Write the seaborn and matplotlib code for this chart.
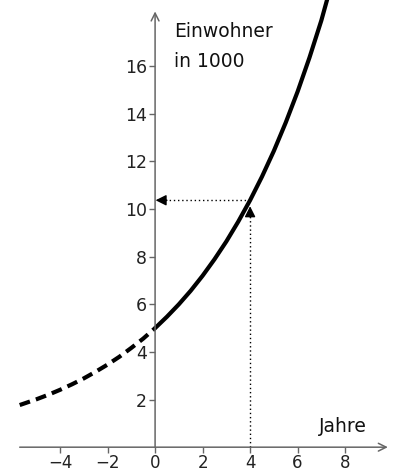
import matplotlib
matplotlib.use("Agg")
import matplotlib.pyplot as plt
import seaborn as sns
import pandas as pd

# values (years, population in 1000)
years_past = [-5.7, -5, -4.5, -4, -3.5, -3, -2.5, -2, -1.5, -1, -0.5, 0]
pop_past = [1.77, 2.01, 2.20, 2.41, 2.64, 2.89, 3.17, 3.47, 3.80, 4.17, 4.56, 5.00]
years_future = [0, 0.5, 1, 1.5, 2, 2.5, 3, 3.5, 4, 4.5, 5, 5.5, 6, 6.5, 7, 7.3]
pop_future = [5.00, 5.48, 6.00, 6.57, 7.20, 7.89, 8.64, 9.47, 10.37, 11.36,
              12.44, 13.63, 14.93, 16.36, 17.92, 19.0]
x_ticks = [-4, -2, 0, 2, 4, 6, 8]
y_ticks = [2, 4, 6, 8, 10, 12, 14, 16]
read_year = 4
read_pop = 10.37

sns.set_style("white")
plt.rcParams['font.family'] = ['DejaVu Sans']

fig = plt.figure(figsize=(3.99, 4.71), dpi=100)
ax = fig.add_axes([0, 0, 1, 1])

df_past = pd.DataFrame({"Jahre": years_past, "Einwohner": pop_past})
df_future = pd.DataFrame({"Jahre": years_future, "Einwohner": pop_future})
sns.lineplot(data=df_past, x="Jahre", y="Einwohner", ax=ax, color="black",
             lw=3, linestyle=(0, (2.6, 1.5)), sort=False)
sns.lineplot(data=df_future, x="Jahre", y="Einwohner", ax=ax, color="black",
             lw=3, sort=False)

ax.set_xlim(-6.53, 10.27)
ax.set_ylim(-1.0, 18.78)
ax.set_xlabel("")
ax.set_ylabel("")

# axes through origin
for s in ["top", "right", "left", "bottom"]:
    ax.spines[s].set_visible(False)
ax.spines["left"].set_position(("data", 0))
ax.spines["bottom"].set_position(("data", 0))
axcol = "#666666"
ax.annotate("", xy=(0, 18.3), xytext=(0, 0),
            arrowprops=dict(arrowstyle="->", color=axcol, lw=1.1,
                            shrinkA=0, shrinkB=0, mutation_scale=14))
ax.annotate("", xy=(9.8, 0), xytext=(-5.7, 0),
            arrowprops=dict(arrowstyle="->", color=axcol, lw=1.1,
                            shrinkA=0, shrinkB=0, mutation_scale=14))

ax.set_xticks(x_ticks)
ax.set_yticks(y_ticks)
ax.tick_params(axis="both", direction="out", length=4, width=1, color=axcol,
               labelsize=12.5, labelcolor="#222222", pad=2)
ax.tick_params(axis="x", labelsize=12, pad=1)
ax.xaxis.set_ticks_position("bottom")
ax.yaxis.set_ticks_position("left")
ax.set_xticklabels(["\u22124", "\u22122", "0", "2", "4", "6", "8"])

# reading lines
ax.plot([read_year, read_year], [0, read_pop - 0.5], color="black", lw=1,
        linestyle=(0, (1, 2)))
ax.plot([0.4, read_year], [read_pop, read_pop], color="black", lw=1,
        linestyle=(0, (1, 2)))
ax.annotate("", xy=(read_year, read_pop - 0.25), xytext=(read_year, read_pop - 0.7),
            arrowprops=dict(arrowstyle="-|>", color="black", lw=1,
                            shrinkA=0, shrinkB=0, mutation_scale=16))
ax.annotate("", xy=(0.02, read_pop), xytext=(0.5, read_pop),
            arrowprops=dict(arrowstyle="-|>", color="black", lw=1,
                            shrinkA=0, shrinkB=0, mutation_scale=16))

ax.text(0.8, 17.85, "Einwohner\nin 1000", fontsize=13.5, va="top", ha="left",
        color="#111111", linespacing=1.7)
ax.text(6.9, 0.65, "Jahre", fontsize=13.5, va="baseline", ha="left", color="#111111")

fig.savefig("out.png", dpi=100)
